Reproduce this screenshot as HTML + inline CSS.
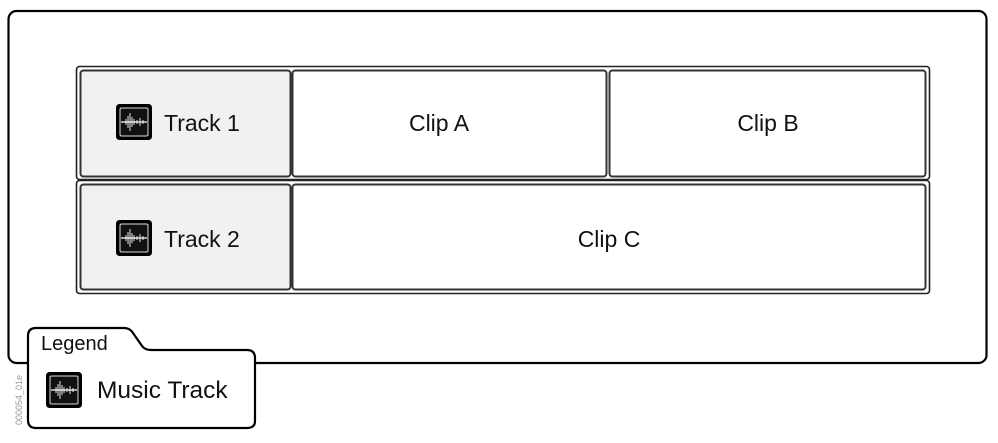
<!DOCTYPE html>
<html><head><style>html,body{margin:0;padding:0;background:#fff;}svg{display:block;}</style></head>
<body>
<svg width="998" height="443" viewBox="0 0 998 443" xmlns="http://www.w3.org/2000/svg" font-family="Liberation Sans, Arial, sans-serif">
<defs>
<g id="ico">
<rect x="0.5" y="0.5" width="35" height="35" rx="3" fill="#000" stroke="#000"/>
<rect x="4" y="4" width="28" height="28" rx="1.5" fill="#111" stroke="#ddd" stroke-width="1"/>
<path d="M5 18 H31" stroke="#fff" stroke-width="1.2"/>
<path d="M10 15v6M12 12v12M14 9v18M16 13v10M18 15v6M21 16v4M24 14v8M27 16v4" stroke="#fff" stroke-width="0.9"/>
</g>
</defs>
<rect x="8.5" y="11" width="978" height="352" rx="8" fill="#fff" stroke="#000" stroke-width="2.2"/>
<rect x="76.5" y="66.5" width="853" height="113" rx="3" fill="#fff" stroke="#222" stroke-width="1.6"/>
<rect x="76.5" y="180.5" width="853" height="113" rx="3" fill="#fff" stroke="#222" stroke-width="1.6"/>
<g stroke="#333" stroke-width="2">
<rect x="80.5" y="70.5" width="210" height="106" rx="3" fill="#f1f1f1"/>
<rect x="292.5" y="70.5" width="314" height="106" rx="3" fill="#fff"/>
<rect x="609.5" y="70.5" width="316" height="106" rx="3" fill="#fff"/>
<rect x="80.5" y="184.5" width="210" height="105" rx="3" fill="#f1f1f1"/>
<rect x="292.5" y="184.5" width="633" height="105" rx="3" fill="#fff"/>
</g>
<use href="#ico" x="116" y="104"/>
<use href="#ico" x="116" y="220"/>
<g font-size="23" fill="#111">
<text x="164" y="131">Track 1</text>
<text x="164" y="247">Track 2</text>
<text x="439" y="131" text-anchor="middle">Clip A</text>
<text x="768" y="131" text-anchor="middle">Clip B</text>
<text x="609" y="247" text-anchor="middle">Clip C</text>
</g>
<path d="M28 336 Q28 328 36 328 H124 Q130 328 133 333 L142 346 Q145 350 151 350 H247 Q255 350 255 358 V421 Q255 428 247 428 H36 Q28 428 28 420 Z" fill="#fff" stroke="#000" stroke-width="2.2"/>
<text x="41" y="350" font-size="20" fill="#111">Legend</text>
<use href="#ico" x="46" y="372"/>
<text x="97" y="398" font-size="24.5" fill="#111">Music Track</text>
<text transform="translate(22,425) rotate(-90)" font-size="9" fill="#999">000054_01e</text>
</svg>
</body></html>
